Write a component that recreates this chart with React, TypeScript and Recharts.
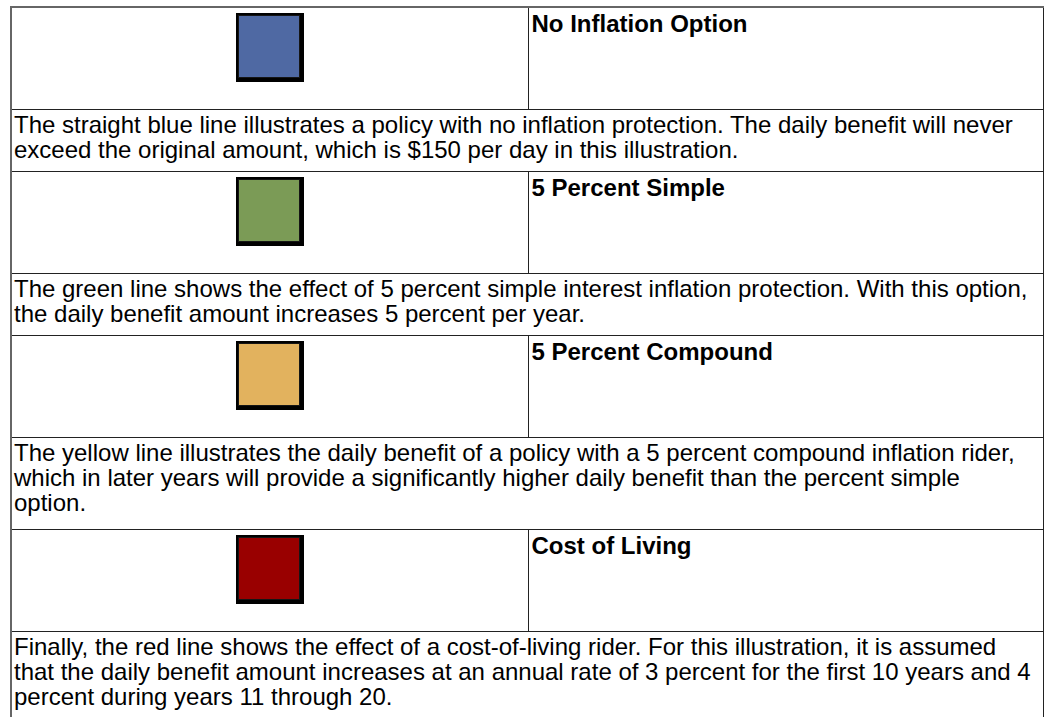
import React from 'react';
import { BarChart, Bar, XAxis, YAxis } from 'recharts';

const optionNames: string[] = ['No Inflation Option', '5 Percent Simple', '5 Percent Compound', 'Cost of Living'];
const swatchColors: string[] = ['#4f69a3', '#7b9b56', '#e2b25e', '#990000'];
const swatchValues: number[] = [1, 1, 1, 1];
const descriptions: string[] = [
  'The straight blue line illustrates a policy with no inflation protection. The daily benefit will never exceed the original amount, which is $150 per day in this illustration.',
  'The green line shows the effect of 5 percent simple interest inflation protection. With this option, the daily benefit amount increases 5 percent per year.',
  'The yellow line illustrates the daily benefit of a policy with a 5 percent compound inflation rider, which in later years will provide a significantly higher daily benefit than the percent simple option.',
  'Finally, the red line shows the effect of a cost-of-living rider. For this illustration, it is assumed that the daily benefit amount increases at an annual rate of 3 percent for the first 10 years and 4 percent during years 11 through 20.',
];

const SWATCH_ROW = 102;
const TEXT_ROWS = [62, 62, 92, 130];

const SwatchShape = (props: any) => {
  const { x, y, width, height, fill } = props;
  return (
    <g>
      <rect x={x} y={y} width={width} height={height} fill="#000" />
      <rect x={x + 2} y={y + 2} width={width - 6} height={height - 6} fill="#2a2a2a" opacity={0.5} />
      <rect x={x + 3} y={y + 3} width={width - 8} height={height - 8} fill={fill} />
    </g>
  );
};

const Swatch = ({ color, value }: { color: string; value: number }) => (
  <BarChart
    width={68}
    height={69}
    data={[{ name: 'swatch', v: value }]}
    margin={{ top: 0, right: 0, bottom: 0, left: 0 }}
    barCategoryGap={0}
    style={{ margin: '0 auto' }}
  >
    <XAxis dataKey="name" hide />
    <YAxis hide domain={[0, 1]} />
    <Bar dataKey="v" fill={color} isAnimationActive={false} shape={<SwatchShape />} />
  </BarChart>
);

const border = '1px solid #222';

export default function App() {
  return (
    <div style={{ position: 'absolute', left: 10, top: 6, fontFamily: '"Liberation Sans", Arial, sans-serif', color: '#000' }}>
      <table
        style={{
          width: 1032,
          borderCollapse: 'collapse',
          tableLayout: 'fixed',
          borderTop: '2px solid #666',
          borderLeft: '2px solid #666',
          borderRight: '1px solid #222',
        }}
      >
        <colgroup>
          <col style={{ width: 517 }} />
          <col style={{ width: 515 }} />
        </colgroup>
        <tbody>
          {optionNames.map((name, i) => (
            <React.Fragment key={name}>
              <tr style={{ height: SWATCH_ROW }}>
                <td style={{ border, verticalAlign: 'top', padding: '5px 0 0 0', textAlign: 'center' }}>
                  <Swatch color={swatchColors[i]} value={swatchValues[i]} />
                </td>
                <td style={{ border, verticalAlign: 'top', padding: '3px 3px', fontWeight: 'bold', fontSize: 24, lineHeight: '25px' }}>
                  {name}
                </td>
              </tr>
              <tr style={{ height: TEXT_ROWS[i] }}>
                <td
                  colSpan={2}
                  style={{
                    border,
                    borderBottom: i === optionNames.length - 1 ? 'none' : border,
                    verticalAlign: 'top',
                    padding: '2px 8px 2px 2px',
                    fontSize: 24,
                    lineHeight: '25px',
                  }}
                >
                  {descriptions[i]}
                </td>
              </tr>
            </React.Fragment>
          ))}
        </tbody>
      </table>
    </div>
  );
}
